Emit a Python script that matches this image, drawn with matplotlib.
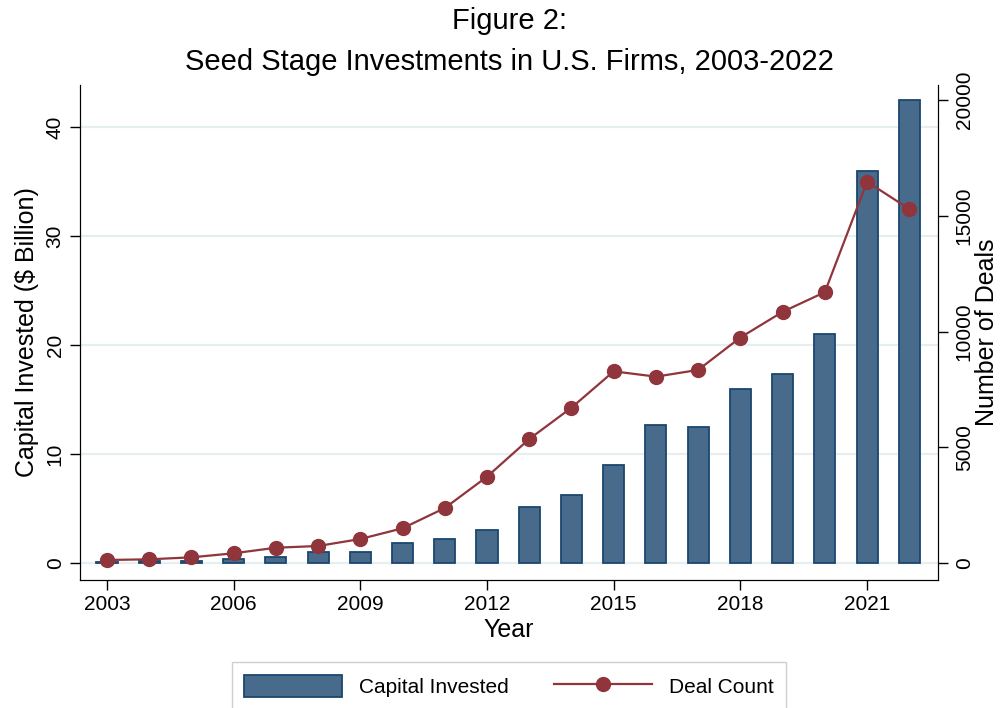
import matplotlib
matplotlib.use("Agg")
import matplotlib.pyplot as plt
from matplotlib.patches import Patch
from matplotlib.lines import Line2D

plt.rcParams['font.family'] = ['Liberation Sans', 'DejaVu Sans']

# -----------------------------
# DATA
# -----------------------------
years = list(range(2003, 2023))
capital_bn = [0.12, 0.15, 0.2, 0.37, 0.52, 0.98, 0.98, 1.8, 2.2, 3.03,
              5.1, 6.24, 9.0, 12.7, 12.46, 16.0, 17.3, 21.0, 35.96, 42.45]
deal_count = [130, 160, 245, 420, 660, 735, 1037, 1500, 2375, 3730,
              5356, 6710, 8280, 8050, 8340, 9740, 10850, 11700, 16470, 15290]

xticks = [2003, 2006, 2009, 2012, 2015, 2018, 2021]
left_ticks = [0, 10, 20, 30, 40]
right_ticks = [0, 5000, 10000, 15000, 20000]

bar_face = '#486a8b'
bar_edge = '#1a476f'
line_col = '#90353b'
grid_col = '#e6eef0'

# -----------------------------
# FIGURE
# -----------------------------
fig = plt.figure(figsize=(10.02, 7.08), dpi=100)
ax = fig.add_axes([80 / 1002, 1 - 580 / 708, (938 - 80) / 1002, (580 - 85) / 708])
ax2 = ax.twinx()

ax.bar(years, capital_bn, width=0.5, color=bar_face, edgecolor=bar_edge,
       linewidth=1.3, zorder=2)
ax2.plot(years, deal_count, color=line_col, linewidth=1.6, marker='o',
         markersize=10, zorder=3)

ax.set_xlim(2002.36, 2022.68)
ax.set_ylim(-1.56, 43.85)
ax2.set_ylim(-734, 20648)

ax.set_xticks(xticks)
ax.set_yticks(left_ticks)
ax2.set_yticks(right_ticks)

ax.yaxis.grid(True, color=grid_col, linewidth=1.6, zorder=0)
ax.set_axisbelow(True)

for a in (ax, ax2):
    a.spines['top'].set_visible(False)
    a.tick_params(length=7, width=1, labelsize=15, color='black')
ax.tick_params(axis='y', labelrotation=90, pad=4)
ax2.tick_params(axis='y', labelrotation=90, pad=5)
for lab in ax.get_yticklabels() + ax2.get_yticklabels():
    lab.set_verticalalignment('center')

ax.set_xlabel('Year', fontsize=18, labelpad=3)
ax.set_ylabel('Capital Invested ($ Billion)', fontsize=18, labelpad=5)
ax2.set_ylabel('Number of Deals', fontsize=18, labelpad=1)

fig.text(509 / 1002, 1 - 21 / 708, 'Figure 2:', ha='center', va='center', fontsize=21)
fig.text(509 / 1002, 1 - 62 / 708, 'Seed Stage Investments in U.S. Firms, 2003-2022',
         ha='center', va='center', fontsize=21)

handles = [Patch(facecolor=bar_face, edgecolor=bar_edge, linewidth=1.3),
           Line2D([], [], color=line_col, linewidth=1.6, marker='o', markersize=10)]
leg = fig.legend(handles, ['Capital Invested', 'Deal Count'], loc='upper center',
                 bbox_to_anchor=(509 / 1002, 1 - 652 / 708), ncol=2, fontsize=15,
                 frameon=True, fancybox=False, edgecolor='#c4c4c4',
                 handlelength=4.7, handleheight=1.25, handletextpad=0.8,
                 columnspacing=2.2, borderpad=0.6)
leg.get_frame().set_linewidth(1.0)

fig.savefig('out.png', dpi=100)
